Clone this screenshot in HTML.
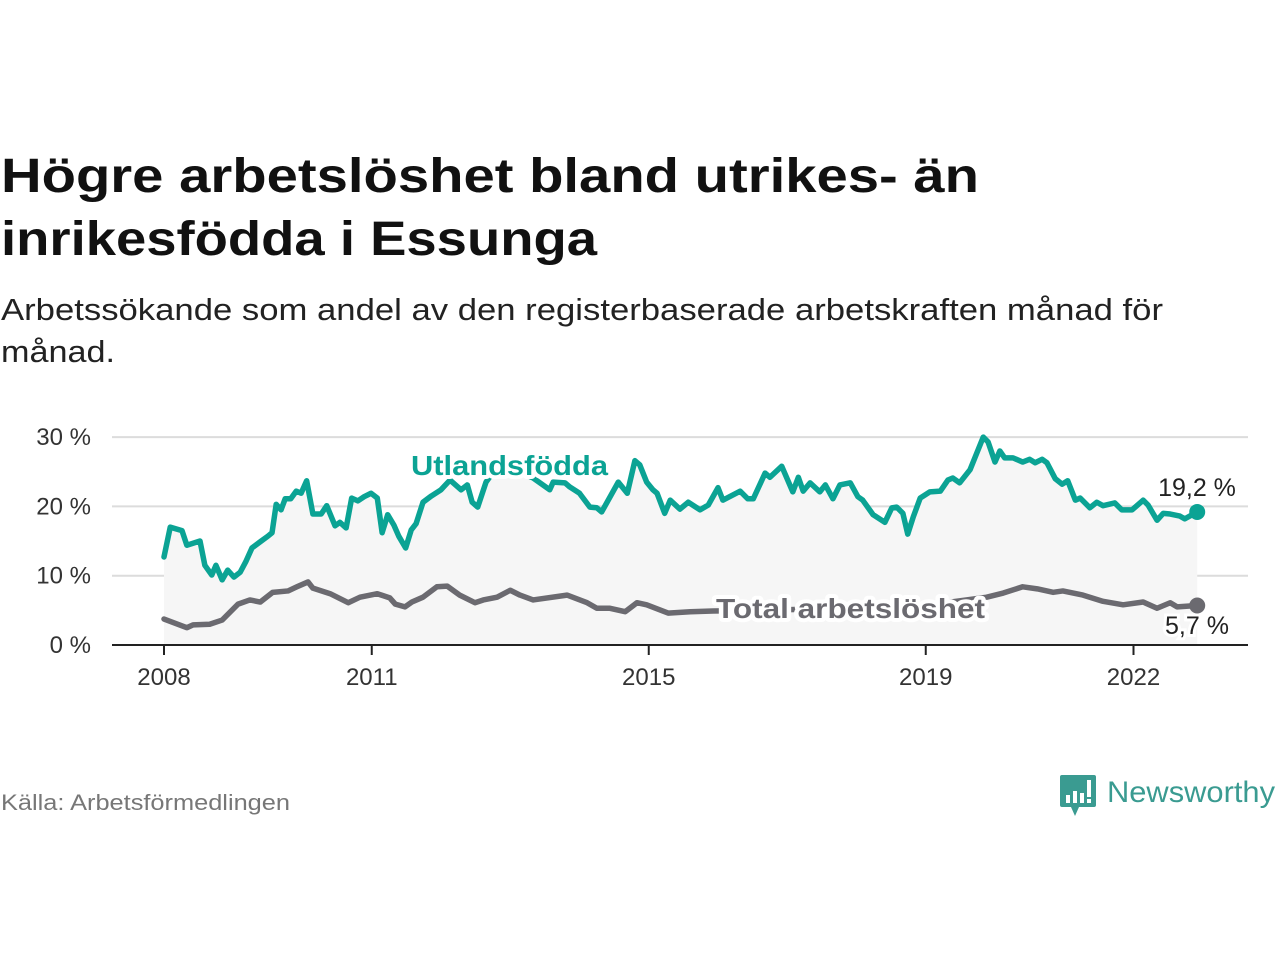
<!DOCTYPE html>
<html><head><meta charset="utf-8">
<style>
body{margin:0;width:1280px;height:960px;background:#fff;font-family:"Liberation Sans",sans-serif;overflow:hidden;position:relative}
#chart{position:absolute;left:0;top:0}
</style></head><body>
<svg id="chart" width="1280" height="960">
<text x="1" y="192" font-size="48" font-weight="bold" fill="#111" textLength="978" lengthAdjust="spacingAndGlyphs">Högre arbetslöshet bland utrikes- än</text>
<text x="1" y="255" font-size="48" font-weight="bold" fill="#111" textLength="596" lengthAdjust="spacingAndGlyphs">inrikesfödda i Essunga</text>
<text x="1" y="320" font-size="31" fill="#222" textLength="1162" lengthAdjust="spacingAndGlyphs">Arbetssökande som andel av den registerbaserade arbetskraften månad för</text>
<text x="1" y="362" font-size="31" fill="#222" textLength="114" lengthAdjust="spacingAndGlyphs">månad.</text>
</svg>
<script>
const yTicks=[0,10,20,30];
const yTickLabels=["0 %","10 %","20 %","30 %"];
const xTicks=[2008,2011,2015,2019,2022];
const xTickLabels=["2008","2011","2015","2019","2022"];
const utlT=[0,.09,.26,.33,.52,.59,.69,.75,.84,.92,1.01,1.10,1.18,1.27,1.39,1.50,1.56,1.62,1.69,1.75,1.83,1.91,1.98,2.06,2.15,2.27,2.35,2.47,2.54,2.63,2.71,2.80,2.89,2.99,3.08,3.15,3.23,3.32,3.39,3.49,3.57,3.64,3.74,3.86,4.00,4.13,4.29,4.38,4.45,4.53,4.65,4.78,5.00,5.33,5.57,5.62,5.79,5.86,6.00,6.15,6.25,6.32,6.56,6.69,6.80,6.87,6.97,7.06,7.12,7.23,7.31,7.45,7.57,7.74,7.86,8.00,8.07,8.32,8.43,8.51,8.68,8.75,8.92,9.08,9.16,9.23,9.33,9.47,9.55,9.66,9.76,9.91,10.02,10.09,10.24,10.41,10.51,10.58,10.67,10.74,10.82,10.92,11.06,11.21,11.32,11.39,11.49,11.64,11.83,11.90,12.00,12.07,12.14,12.26,12.40,12.50,12.58,12.68,12.75,12.87,12.97,13.05,13.16,13.23,13.37,13.47,13.56,13.73,13.83,13.98,14.14,14.21,14.34,14.43,14.53,14.67,14.74,14.92];
const utlV=[12.7,17.0,16.5,14.4,15.0,11.5,10.1,11.5,9.4,10.8,9.8,10.5,12.0,14.0,14.9,15.7,16.2,20.3,19.5,21.1,21.1,22.2,21.9,23.7,18.9,18.9,20.1,17.2,17.7,16.9,21.2,20.8,21.4,21.9,21.2,16.2,18.8,17.3,15.7,14.0,16.6,17.5,20.6,21.5,22.4,23.8,22.4,23.1,20.6,19.9,23.5,25.3,25.5,24.1,22.4,23.5,23.4,22.8,21.9,19.9,19.8,19.2,23.5,21.9,26.6,26.0,23.5,22.4,21.9,19.0,20.9,19.6,20.6,19.5,20.2,22.7,20.9,22.2,21.1,21.1,24.8,24.2,25.8,22.1,24.2,22.2,23.4,22.1,23.1,21.1,23.1,23.4,21.4,20.9,18.8,17.7,19.8,19.9,19.0,16.0,18.5,21.2,22.1,22.2,23.8,24.1,23.4,25.3,30.0,29.3,26.4,28.0,27.0,27.0,26.4,26.8,26.3,26.8,26.3,24.0,23.2,23.7,20.9,21.2,19.8,20.6,20.1,20.5,19.5,19.5,20.9,20.2,18.0,19.0,18.9,18.6,18.2,19.2];
const totT=[0,.33,.42,.66,.84,1.07,1.24,1.39,1.57,1.79,1.92,2.08,2.15,2.40,2.66,2.83,3.08,3.26,3.34,3.48,3.58,3.74,3.94,4.09,4.27,4.49,4.61,4.81,5.00,5.14,5.33,5.82,6.11,6.25,6.44,6.66,6.83,6.97,7.28,7.60,7.93,8.61,9.91,11.06,11.88,12.12,12.40,12.61,12.84,12.98,13.27,13.56,13.85,14.14,14.34,14.53,14.63,14.92];
const totV=[3.75,2.5,2.9,3.0,3.6,5.9,6.5,6.2,7.6,7.8,8.4,9.1,8.2,7.4,6.1,6.9,7.4,6.8,5.9,5.5,6.2,6.9,8.4,8.5,7.2,6.1,6.5,6.9,7.9,7.2,6.5,7.2,6.1,5.3,5.3,4.8,6.1,5.8,4.6,4.8,4.9,5.0,5.3,5.8,6.9,7.5,8.4,8.1,7.6,7.8,7.2,6.3,5.8,6.2,5.3,6.1,5.5,5.7];
const lastLabels=["19,2 %","5,7 %"];

const NS="http://www.w3.org/2000/svg";
const svg=document.getElementById('chart');
const X0=112,X1=1248;
const xs=t=>164+(t-2008)*69.25;
const ys=v=>645-v*6.93;
function mk(tag,attrs,parent){const e=document.createElementNS(NS,tag);for(const k in attrs)e.setAttribute(k,attrs[k]);(parent||svg).appendChild(e);return e;}

yTicks.forEach((v,i)=>{
  if(v>0){const g=mk('line',{x1:X0,x2:X1,y1:ys(v),y2:ys(v),stroke:'#dcdcdc','stroke-width':2});
  
  }
  const t=mk('text',{x:91,y:ys(v)+8,'text-anchor':'end','font-size':24,fill:'#333','font-family':'Liberation Sans, sans-serif'});
  t.textContent=yTickLabels[i];
  
  
});
let d='M'+xs(2008+utlT[0])+','+ys(0);
utlT.forEach((t,i)=>{d+=' L'+xs(2008+t)+','+ys(utlV[i]);});
d+=' L'+xs(2008+utlT[utlT.length-1])+','+ys(0)+' Z';
const area=mk('path',{d:d,fill:'#f6f6f6'});


const ax=mk('line',{x1:X0,x2:X1,y1:645,y2:645,stroke:'#222','stroke-width':2});


xTicks.forEach((y,i)=>{
  const tk=mk('line',{x1:xs(y),x2:xs(y),y1:645,y2:655,stroke:'#222','stroke-width':2});
  
  
  const t=mk('text',{x:xs(y),y:685,'text-anchor':'middle','font-size':24,fill:'#333','font-family':'Liberation Sans, sans-serif'});
  t.textContent=xTickLabels[i];
  
  
});
function line(T,V,color,name){
  const p=mk('polyline',{points:T.map((t,i)=>xs(2008+t)+','+ys(V[i])).join(' '),fill:'none',stroke:color,'stroke-width':5.5,'stroke-linejoin':'round','stroke-linecap':'round'});
  
  
  const n=T.length-1;
  const c=mk('circle',{cx:xs(2008+T[n]),cy:ys(V[n]),r:8,fill:color});
  
  
}
line(totT,totV,'#6b6a70','total-line');
line(utlT,utlV,'#0ba394','utland-line');
function lab(x,y,txt,color,name,len){
  const t=mk('text',{x:x,y:y,'font-size':28,'font-weight':'bold',fill:color,stroke:'#fff','stroke-width':8,'paint-order':'stroke','stroke-linejoin':'round','font-family':'Liberation Sans, sans-serif',textLength:len,lengthAdjust:'spacingAndGlyphs'});
  t.textContent=txt;
  
  
}
lab(411,475,'Utlandsfödda','#0ba394','series-label-utland',197);
lab(716,618,'Total arbetslöshet','#6b6a70','series-label-total',269);
function end(x,y,txt,name){
  const t=mk('text',{x:x,y:y,'text-anchor':'middle','font-size':25,fill:'#222',stroke:'#fff','stroke-width':6,'paint-order':'stroke','font-family':'Liberation Sans, sans-serif'});
  t.textContent=txt;
  
  
}
end(1197,496,lastLabels[0],'end-value-utland');
end(1197,634,lastLabels[1],'end-value-total');
const src=mk('text',{x:1,y:810,'font-size':22,fill:'#777','font-family':'Liberation Sans, sans-serif',textLength:289,lengthAdjust:'spacingAndGlyphs'});
src.textContent='Källa: Arbetsförmedlingen';


const logo=mk('g',{});


mk('path',{d:'M1062,775 h32 a2,2 0 0 1 2,2 v28 a2,2 0 0 1 -2,2 h-15 l-4,9 l-4,-9 h-9 a2,2 0 0 1 -2,-2 v-28 a2,2 0 0 1 2,-2 z',fill:'#3a9b91'},logo);
mk('rect',{x:1066,y:795,width:4,height:8,fill:'#fff'},logo);
mk('rect',{x:1073,y:791,width:4,height:12,fill:'#fff'},logo);
mk('rect',{x:1080,y:793,width:4,height:10,fill:'#fff'},logo);
mk('rect',{x:1087,y:780,width:4,height:17,fill:'#fff'},logo);
mk('rect',{x:1087,y:799,width:4,height:4,fill:'#fff'},logo);
const nw=mk('text',{x:1107,y:802,'font-size':30,fill:'#3a9b91','font-family':'Liberation Sans, sans-serif',textLength:168,lengthAdjust:'spacingAndGlyphs'},logo);
nw.textContent='Newsworthy';
</script>
</body></html>
